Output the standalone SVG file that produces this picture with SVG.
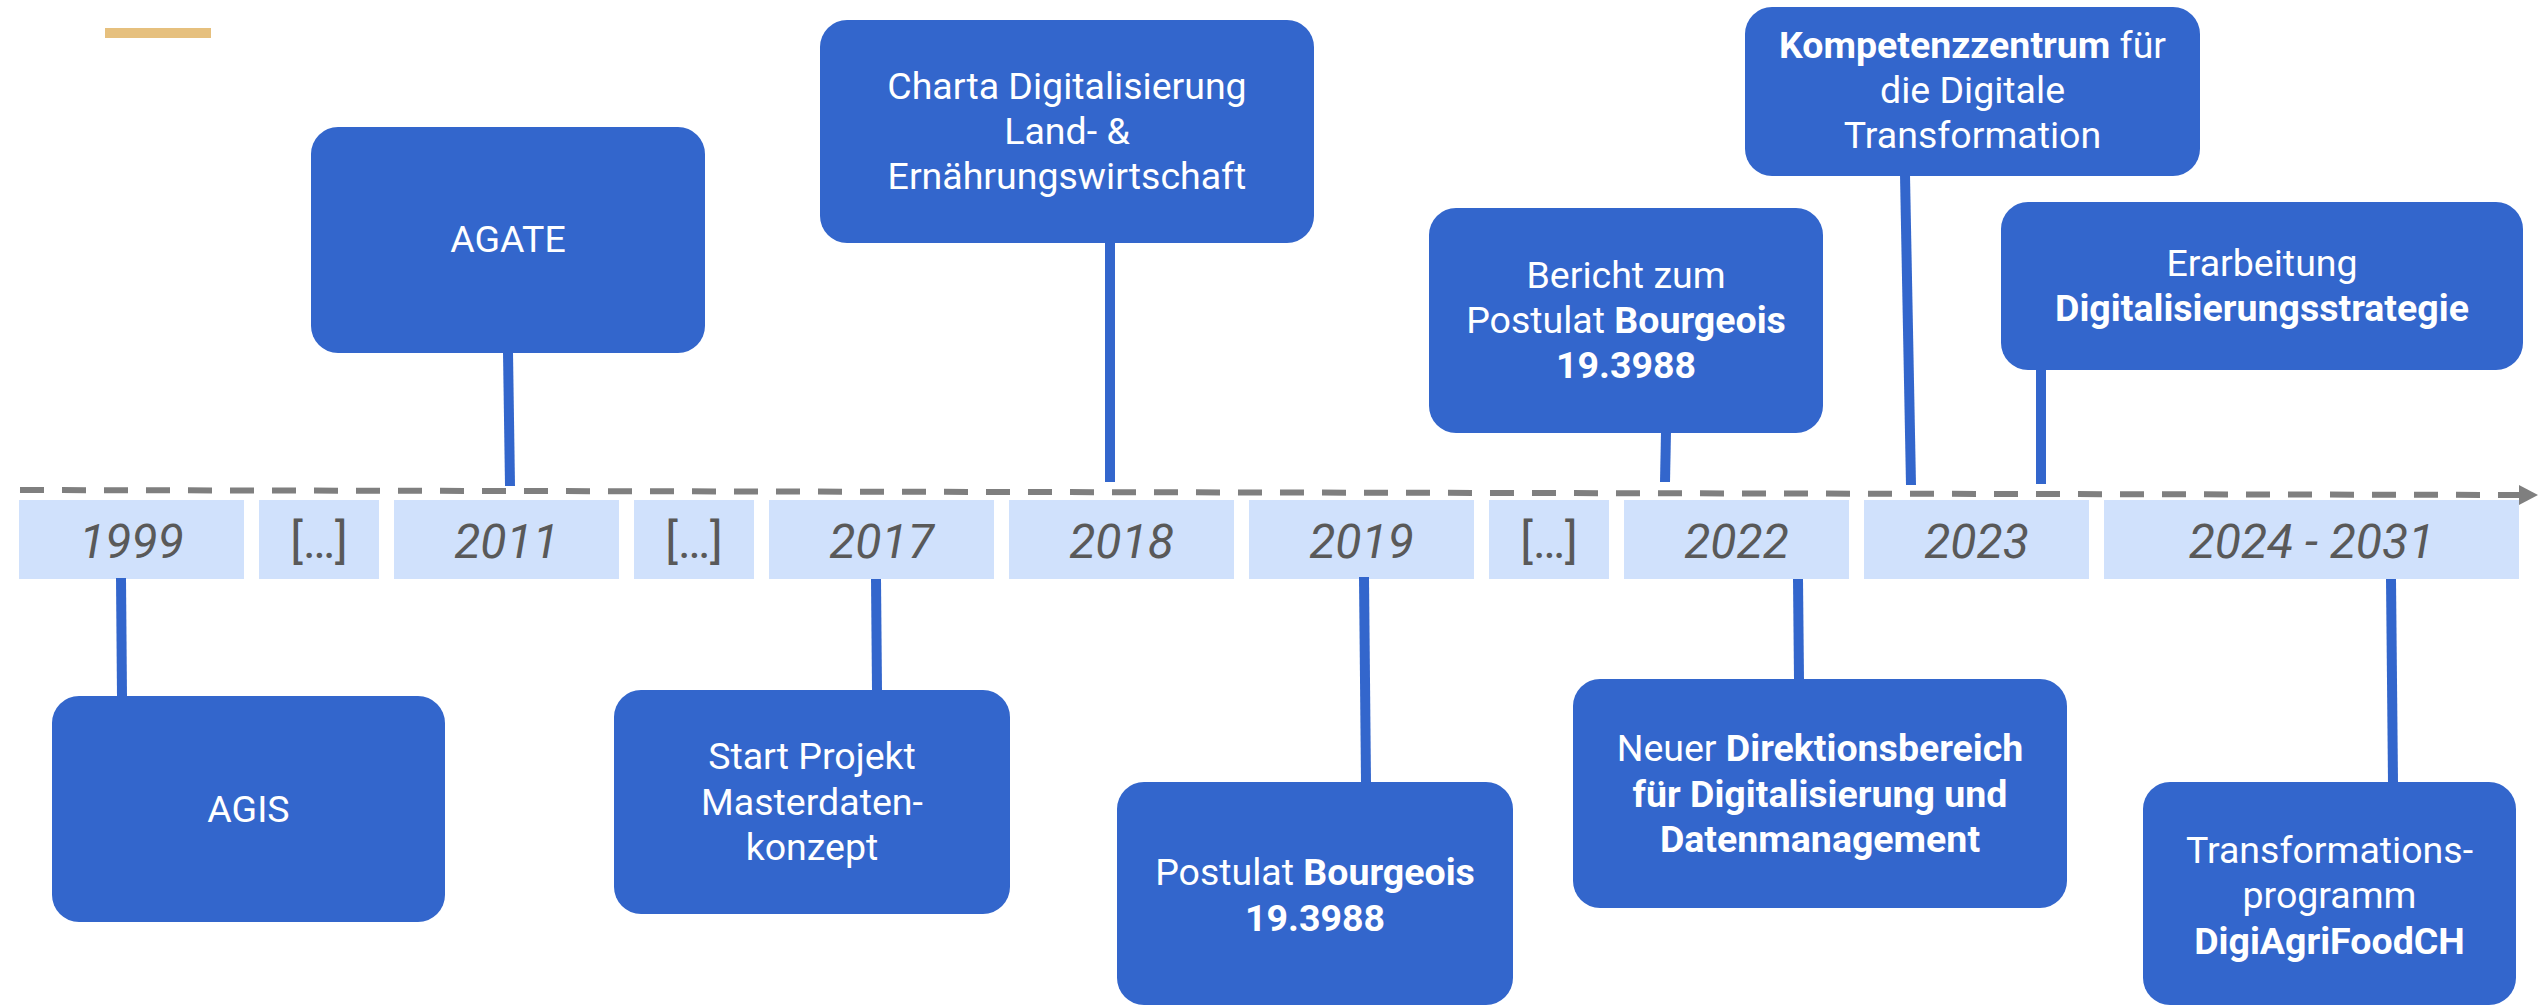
<svg xmlns="http://www.w3.org/2000/svg" width="2539" height="1006" viewBox="0 0 2539 1006">
<style>
.box{fill:#3366cc}
.yr{fill:#d0e1fc}
.t{font-family:Roboto,"Liberation Sans",sans-serif;font-size:37.5px;fill:#ffffff;text-anchor:middle}
.b{font-weight:700}
.y{font-family:Roboto,"Liberation Sans",sans-serif;font-size:48px;font-style:italic;fill:#595959;text-anchor:middle}
.e{font-style:normal}
.c{stroke:#3366cc;stroke-width:10;fill:none}
.axis{stroke:#7f7f7f;stroke-width:6;stroke-dasharray:24 18;fill:none}
</style>
<rect x="105" y="28" width="106" height="10" fill="#e6c07e"/>
<g id="timeline">
<g id="y1999"><rect class="yr" x="19" y="500" width="225" height="79"/><text class="y" x="131.5" y="558">1999</text></g>
<g id="gap1"><rect class="yr" x="259" y="500" width="120" height="79"/><text class="y e" x="319" y="558">[…]</text></g>
<g id="y2011"><rect class="yr" x="394" y="500" width="225" height="79"/><text class="y" x="506.5" y="558">2011</text></g>
<g id="gap2"><rect class="yr" x="634" y="500" width="120" height="79"/><text class="y e" x="694" y="558">[…]</text></g>
<g id="y2017"><rect class="yr" x="769" y="500" width="225" height="79"/><text class="y" x="881.5" y="558">2017</text></g>
<g id="y2018"><rect class="yr" x="1009" y="500" width="225" height="79"/><text class="y" x="1121.5" y="558">2018</text></g>
<g id="y2019"><rect class="yr" x="1249" y="500" width="225" height="79"/><text class="y" x="1361.5" y="558">2019</text></g>
<g id="gap3"><rect class="yr" x="1489" y="500" width="120" height="79"/><text class="y e" x="1549" y="558">[…]</text></g>
<g id="y2022"><rect class="yr" x="1624" y="500" width="225" height="79"/><text class="y" x="1736.5" y="558">2022</text></g>
<g id="y2023"><rect class="yr" x="1864" y="500" width="225" height="79"/><text class="y" x="1976.5" y="558">2023</text></g>
<g id="y2024"><rect class="yr" x="2104" y="500" width="415" height="79"/><text class="y" x="2311.5" y="558">2024 - 2031</text></g>
</g>
<g id="connectors">
<line class="axis" x1="20" y1="490" x2="2519" y2="495"/>
<polygon points="2519,485 2538,495 2519,505" fill="#7f7f7f"/>
<line class="c" x1="121" y1="578" x2="122" y2="697"/>
<line class="c" x1="508" y1="352" x2="510" y2="486"/>
<line class="c" x1="876" y1="579" x2="877" y2="691"/>
<line class="c" x1="1110" y1="243" x2="1110" y2="482"/>
<line class="c" x1="1364" y1="577" x2="1366" y2="783"/>
<line class="c" x1="1666" y1="432" x2="1665" y2="482"/>
<line class="c" x1="1798" y1="579" x2="1799" y2="680"/>
<line class="c" x1="1905" y1="175" x2="1911" y2="485"/>
<line class="c" x1="2041" y1="369" x2="2041" y2="484"/>
<line class="c" x1="2391" y1="579" x2="2393" y2="783"/>
</g>
<g id="agis"><rect class="box" x="52" y="696" width="393" height="226" rx="27"/><text class="t" x="248.5" y="822">AGIS</text></g>
<g id="agate"><rect class="box" x="311" y="127" width="394" height="226" rx="27"/><text class="t" x="508" y="252">AGATE</text></g>
<g id="masterdaten"><rect class="box" x="614" y="690" width="396" height="224" rx="27"/>
<text class="t" x="812" y="769">Start Projekt</text><text class="t" x="812" y="815">Masterdaten-</text><text class="t" x="812" y="860">konzept</text></g>
<g id="charta"><rect class="box" x="820" y="20" width="494" height="223" rx="27"/>
<text class="t" x="1067" y="99">Charta Digitalisierung</text><text class="t" x="1067" y="144">Land- &amp;</text><text class="t" x="1067" y="189">Ernährungswirtschaft</text></g>
<g id="postulat"><rect class="box" x="1117" y="782" width="396" height="223" rx="27"/>
<text class="t" x="1315" y="885">Postulat <tspan class="b">Bourgeois</tspan></text><text class="t b" x="1315" y="931">19.3988</text></g>
<g id="bericht"><rect class="box" x="1429" y="208" width="394" height="225" rx="27"/>
<text class="t" x="1626" y="288">Bericht zum</text><text class="t" x="1626" y="333">Postulat <tspan class="b">Bourgeois</tspan></text><text class="t b" x="1626" y="378">19.3988</text></g>
<g id="direktion"><rect class="box" x="1573" y="679" width="494" height="229" rx="27"/>
<text class="t" x="1820" y="761">Neuer <tspan class="b">Direktionsbereich</tspan></text><text class="t b" x="1820" y="807">für Digitalisierung und</text><text class="t b" x="1820" y="852">Datenmanagement</text></g>
<g id="kompetenz"><rect class="box" x="1745" y="7" width="455" height="169" rx="27"/>
<text class="t" x="1972.5" y="58"><tspan class="b">Kompetenzzentrum</tspan> für</text><text class="t" x="1972.5" y="103">die Digitale</text><text class="t" x="1972.5" y="148">Transformation</text></g>
<g id="strategie"><rect class="box" x="2001" y="202" width="522" height="168" rx="27"/>
<text class="t" x="2262" y="276">Erarbeitung</text><text class="t b" x="2262" y="321">Digitalisierungsstrategie</text></g>
<g id="digiagrifood"><rect class="box" x="2143" y="782" width="373" height="223" rx="27"/>
<text class="t" x="2329.5" y="863">Transformations-</text><text class="t" x="2329.5" y="908">programm</text><text class="t b" x="2329.5" y="954">DigiAgriFoodCH</text></g>
</svg>
